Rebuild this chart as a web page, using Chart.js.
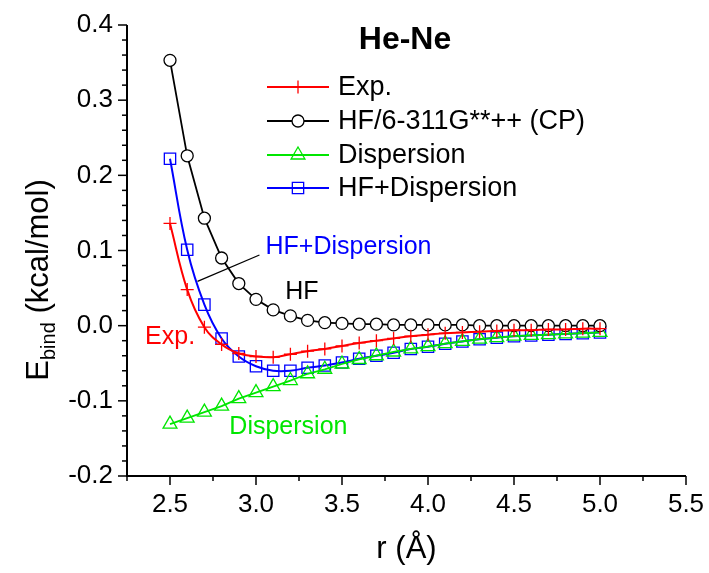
<!DOCTYPE html>
<html>
<head>
<meta charset="utf-8">
<script src="https://cdn.jsdelivr.net/npm/chart.js@4/dist/chart.umd.min.js"></script>
<style>
  html, body { margin: 0; padding: 0; background: #fff; }
  #wrap { width: 709px; height: 573px; }
</style>
</head>
<body>
<div id="wrap"><canvas id="chart" width="709" height="573"></canvas></div>
<script>
// ---------------------------------------------
// Data (He-Ne binding energy, kcal/mol)
// ---------------------------------------------

const rValues = [2.5, 2.6, 2.7, 2.8, 2.9, 3.0, 3.1, 3.2, 3.3, 3.4, 3.5, 3.6, 3.7,
                 3.8, 3.9, 4.0, 4.1, 4.2, 4.3, 4.4, 4.5, 4.6, 4.7, 4.8, 4.9, 5.0];

const expValues = [0.136, 0.048, -0.002, -0.025, -0.037, -0.041, -0.042, -0.038, -0.034,
                   -0.031, -0.027, -0.023, -0.020, -0.017, -0.014, -0.012, -0.010, -0.009,
                   -0.008, -0.007, -0.006, -0.006, -0.005, -0.005, -0.004, -0.004];

const hfValues = [0.353, 0.226, 0.143, 0.090, 0.056, 0.035, 0.021, 0.013, 0.007,
                  0.004, 0.003, 0.002, 0.002, 0.001, 0.001, 0.001, 0.001, 0.001,
                  0.000, 0.000, 0.000, 0.000, 0.000, 0.000, 0.000, 0.000];

const dispValues = [-0.131, -0.123, -0.115, -0.107, -0.097, -0.089, -0.081, -0.073, -0.064,
                    -0.058, -0.051, -0.045, -0.040, -0.035, -0.031, -0.028, -0.024, -0.021,
                    -0.018, -0.016, -0.014, -0.013, -0.012, -0.011, -0.010, -0.009];

const hfDispValues = [0.222, 0.101, 0.028, -0.017, -0.041, -0.054, -0.060, -0.060, -0.056,
                      -0.053, -0.049, -0.044, -0.040, -0.036, -0.031, -0.028, -0.024, -0.021,
                      -0.018, -0.016, -0.014, -0.013, -0.012, -0.011, -0.010, -0.009];

const seriesNames = ["Exp.", "HF/6-311G**++ (CP)", "Dispersion", "HF+Dispersion"];

const xTickLabels = ["2.5", "3.0", "3.5", "4.0", "4.5", "5.0", "5.5"];
const yTickLabels = ["-0.2", "-0.1", "0.0", "0.1", "0.2", "0.3", "0.4"];

// ---------------------------------------------
// Helpers
// ---------------------------------------------

const FONT = '"Liberation Sans", Arial, Helvetica, sans-serif';

function pts(values) {
  return rValues.map((r, i) => ({ x: r, y: values[i] }));
}

function font(size, bold) {
  return (bold ? "bold " : "") + size + "px " + FONT;
}

// ---------------------------------------------
// Axes, legend and labels (drawn on top)
// ---------------------------------------------

const decorPlugin = {
  id: "decor",
  afterDraw(chart) {
    const { ctx, chartArea: a } = chart;
    const xs = chart.scales.x;
    const ys = chart.scales.y;
    ctx.save();

    // axis lines
    ctx.strokeStyle = "#000";
    ctx.lineWidth = 2;
    ctx.beginPath();
    ctx.moveTo(a.left, a.top);
    ctx.lineTo(a.left, a.bottom);
    ctx.lineTo(a.right, a.bottom);
    ctx.stroke();

    // x ticks (major every 0.5, minor every 0.25)
    ctx.lineWidth = 1.5;
    for (let i = 9; i <= 22; i++) {
      const px = xs.getPixelForValue(i * 0.25);
      const len = i % 2 === 0 ? 9 : 5;
      ctx.beginPath();
      ctx.moveTo(px, a.bottom);
      ctx.lineTo(px, a.bottom + len);
      ctx.stroke();
    }
    // y ticks (major every 0.1, minor every 0.02)
    for (let i = -10; i <= 20; i++) {
      const py = ys.getPixelForValue(i * 0.02);
      const len = i % 5 === 0 ? 9 : 5;
      ctx.beginPath();
      ctx.moveTo(a.left, py);
      ctx.lineTo(a.left - len, py);
      ctx.stroke();
    }

    // tick labels
    ctx.fillStyle = "#000";
    ctx.font = font(26);
    ctx.textAlign = "center";
    ctx.textBaseline = "middle";
    xTickLabels.forEach(t => {
      ctx.fillText(t, xs.getPixelForValue(parseFloat(t)), a.bottom + 29);
    });
    ctx.textAlign = "right";
    yTickLabels.forEach(t => {
      ctx.fillText(t, a.left - 14, ys.getPixelForValue(parseFloat(t)));
    });

    // x title
    ctx.textAlign = "center";
    ctx.font = font(31);
    ctx.fillText("r (Å)", (a.left + a.right) / 2, 549);

    // y title with subscript
    ctx.save();
    ctx.translate(48, 280);
    ctx.rotate(-Math.PI / 2);
    ctx.textAlign = "left";
    ctx.textBaseline = "alphabetic";
    ctx.font = font(31);
    const wE = ctx.measureText("E").width;
    const wRest = ctx.measureText(" (kcal/mol)").width;
    ctx.font = font(20);
    const wSub = ctx.measureText("bind").width;
    const x0 = -(wE + wSub + wRest) / 2;
    ctx.font = font(31);
    ctx.fillText("E", x0, 0);
    ctx.font = font(20);
    ctx.fillText("bind", x0 + wE, 7);
    ctx.font = font(31);
    ctx.fillText(" (kcal/mol)", x0 + wE + wSub, 0);
    ctx.restore();

    // title
    ctx.textAlign = "center";
    ctx.textBaseline = "middle";
    ctx.font = font(32, true);
    ctx.fillText("He-Ne", 405, 40);

    // legend
    const rowsY = [87, 121, 155, 188];
    chart.data.datasets.forEach((ds, i) => {
      const yy = rowsY[i];
      ctx.strokeStyle = ds.borderColor;
      ctx.lineWidth = ds.borderWidth;
      ctx.beginPath();
      ctx.moveTo(267, yy);
      ctx.lineTo(329, yy);
      ctx.stroke();

      ctx.fillStyle = ds.pointBackgroundColor;
      ctx.strokeStyle = ds.pointBorderColor;
      ctx.lineWidth = ds.pointBorderWidth;
      Chart.helpers.drawPoint(ctx, {
        pointStyle: ds.pointStyle,
        radius: ds.pointRadius,
        borderWidth: ds.pointBorderWidth,
        rotation: 0
      }, 298, yy);

      ctx.fillStyle = "#000";
      ctx.font = font(27);
      ctx.textAlign = "left";
      ctx.fillText(ds.label, 338, yy + 1);
    });

    // in-plot annotations (placed in data coordinates)
    ctx.strokeStyle = "#000";
    ctx.lineWidth = 1.3;
    ctx.beginPath();
    ctx.moveTo(xs.getPixelForValue(2.66), ys.getPixelForValue(0.059));
    ctx.lineTo(xs.getPixelForValue(3.02), ys.getPixelForValue(0.094));
    ctx.stroke();

    ctx.font = font(25);
    ctx.textAlign = "left";
    ctx.fillStyle = "#0000ff";
    ctx.fillText("HF+Dispersion", xs.getPixelForValue(3.055), ys.getPixelForValue(0.104));
    ctx.fillStyle = "#000";
    ctx.fillText("HF", xs.getPixelForValue(3.17), ys.getPixelForValue(0.044));
    ctx.fillStyle = "#ff0000";
    ctx.fillText("Exp.", xs.getPixelForValue(2.355), ys.getPixelForValue(-0.015));
    ctx.fillStyle = "#00e600";
    ctx.fillText("Dispersion", xs.getPixelForValue(2.845), ys.getPixelForValue(-0.135));

    ctx.restore();
  }
};

// ---------------------------------------------
// Build chart
// ---------------------------------------------

function buildChart() {
  const ctx = document.getElementById("chart");
  new Chart(ctx, {
    type: "line",
    data: {
      datasets: [
        {
          label: seriesNames[0],
          data: pts(expValues),
          borderColor: "#ff0000",
          borderWidth: 2,
          tension: 0.4,
          pointStyle: "cross",
          pointRadius: 6.5,
          pointBorderWidth: 1.3,
          pointBorderColor: "#ff0000",
          pointBackgroundColor: "#ff0000"
        },
        {
          label: seriesNames[1],
          data: pts(hfValues),
          borderColor: "#000000",
          borderWidth: 1.8,
          tension: 0,
          pointStyle: "circle",
          pointRadius: 6,
          pointBorderWidth: 1.3,
          pointBorderColor: "#000000",
          pointBackgroundColor: "#ffffff"
        },
        {
          label: seriesNames[2],
          data: pts(dispValues),
          borderColor: "#00e600",
          borderWidth: 1.8,
          tension: 0,
          pointStyle: "triangle",
          pointRadius: 8,
          pointBorderWidth: 1.3,
          pointBorderColor: "#00e600",
          pointBackgroundColor: "rgba(0,0,0,0)"
        },
        {
          label: seriesNames[3],
          data: pts(hfDispValues),
          borderColor: "#0000ff",
          borderWidth: 2,
          tension: 0.4,
          pointStyle: "rect",
          pointRadius: 8,
          pointBorderWidth: 1.3,
          pointBorderColor: "#0000ff",
          pointBackgroundColor: "rgba(0,0,0,0)"
        }
      ]
    },
    options: {
      responsive: false,
      animation: false,
      layout: { padding: { left: 127, right: 23, top: 25, bottom: 97 } },
      plugins: {
        legend: { display: false },
        tooltip: { enabled: false }
      },
      scales: {
        x: { type: "linear", min: 2.25, max: 5.5, display: false },
        y: { type: "linear", min: -0.2, max: 0.4, display: false }
      }
    },
    plugins: [decorPlugin]
  });
}

buildChart();
</script>
</body>
</html>
